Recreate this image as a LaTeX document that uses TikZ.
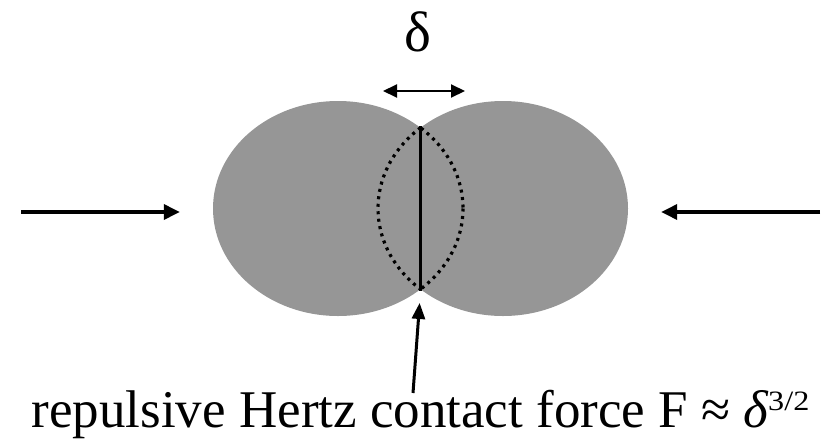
\documentclass[tikz,border=0pt]{standalone}
\usepackage{fontspec}
\setmainfont{Liberation Serif}
\usepackage{tikz}
\usetikzlibrary{arrows.meta,shapes.geometric}
\definecolor{ballgray}{RGB}{150,150,150}

\begin{document}
\begin{tikzpicture}[x=1pt,y=-1pt,>={Triangle[length=16pt,width=15pt]},
  every node/.style={font=\fontsize{53}{60}\selectfont,inner sep=0pt},
  ball/.style={ellipse,fill=ballgray,minimum width=250pt,minimum height=215pt},
  lensdots/.style={line width=3.2pt,dash pattern=on 3pt off 4.5pt},
  push/.style={->,line width=3.5pt,shorten >=33pt}]
  \useasboundingbox (0,0) rectangle (834,439);
  \node[ball] (leftball) at (338,208.5) {};
  \node[ball] (rightball) at (503,208.5) {};
  % overlap region, dotted
  \begin{scope}
    \clip (rightball.center) ellipse [x radius=125,y radius=107.5];
    \draw[lensdots] (leftball.center) ellipse [x radius=125,y radius=107.5];
  \end{scope}
  \begin{scope}
    \clip (leftball.center) ellipse [x radius=125,y radius=107.5];
    \draw[lensdots] (rightball.center) ellipse [x radius=125,y radius=107.5];
  \end{scope}
  \coordinate (ctop) at (420.5,126);
  \coordinate (cbot) at (420.5,291);
  \draw[line width=3.2pt] (ctop) -- (cbot);
  % overlap width
  \node[anchor=base,font=\fontsize{57}{60}\selectfont] (delta) at (418,51) {δ};
  \coordinate (dleft) at (383,91);
  \coordinate (dright) at (465,91);
  \draw[<->,line width=2pt,>={Triangle[length=14pt,width=13pt]}] (dleft) -- (dright);
  % forces pushing the grains together
  \coordinate (lstart) at (21,212);
  \coordinate (rstart) at (820,212);
  \draw[push] (lstart) -- (lstart -| leftball.west);
  \draw[push] (rstart) -- (rstart -| rightball.east);
  \node[anchor=base] (label) at (420.5,427)
    {repulsive Hertz contact force F ≈ {\itshape δ}\raisebox{17pt}{\scalebox{1.15}[1]{\fontsize{28}{28}\selectfont 3/2}}};
  \coordinate (tail) at (413,393);
  \draw[->,line width=3pt,shorten >=12pt,>={Triangle[length=16pt,width=13pt]}]
    (tail) -- (cbot);
\end{tikzpicture}
\end{document}
